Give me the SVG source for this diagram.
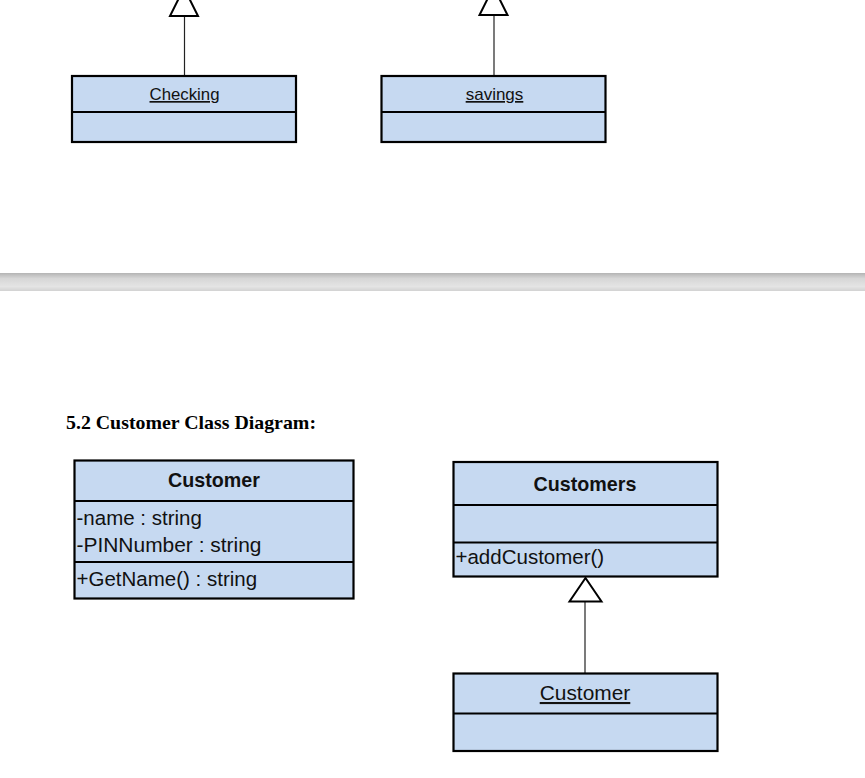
<svg xmlns="http://www.w3.org/2000/svg" width="865" height="778" viewBox="0 0 865 778">
<defs>
<linearGradient id="band" x1="0" y1="0" x2="0" y2="1">
<stop offset="0" stop-color="#b4b4b4"/>
<stop offset="0.3" stop-color="#d6d6d6"/>
<stop offset="0.75" stop-color="#e4e4e4"/>
<stop offset="1" stop-color="#d2d2d2"/>
</linearGradient>
</defs>
<style>
.box{fill:#c6d9f1;stroke:#000;stroke-width:2.2}
.div{stroke:#000;stroke-width:2.2}
.conn{stroke:#222;stroke-width:1.2;fill:none}
.tri{fill:#fff;stroke:#000;stroke-width:2}
.t{font-family:"Liberation Sans",Arial,sans-serif;fill:#111}
.b{font-weight:bold}
.u{text-decoration:underline}
.h{font-family:"Liberation Serif","Times New Roman",serif;font-weight:bold;font-size:19.5px;fill:#000}
</style>
<rect width="865" height="778" fill="#fff"/>
<rect x="0" y="273" width="865" height="18" fill="url(#band)"/>
<text class="h" x="66" y="429" textLength="250" lengthAdjust="spacingAndGlyphs">5.2 Customer Class Diagram:</text>

<g id="connectors">
<line class="conn" x1="184.5" y1="76" x2="184.5" y2="10"/>
<polygon class="tri" points="170,16 198,16 184,-12"/>
<line class="conn" x1="494" y1="76" x2="494" y2="10"/>
<polygon class="tri" points="479.5,15 507.5,15 493.5,-13"/>
<line class="conn" x1="585" y1="673" x2="585" y2="600"/>
<polygon class="tri" points="569.5,601.5 601.5,601.5 585.5,578"/>
</g>

<g id="checking">
<rect class="box" x="72" y="76" width="224" height="66"/>
<line class="div" x1="72" y1="112" x2="296" y2="112"/>
<text class="t u" x="184.5" y="100" font-size="16.8" text-anchor="middle">Checking</text>
</g>

<g id="savings">
<rect class="box" x="381.5" y="76" width="224" height="66"/>
<line class="div" x1="381.5" y1="112" x2="605.5" y2="112"/>
<text class="t u" x="494.5" y="100" font-size="17" text-anchor="middle">savings</text>
</g>

<g id="customer">
<rect class="box" x="74.5" y="460.5" width="279" height="138"/>
<line class="div" x1="74.5" y1="501" x2="353.5" y2="501"/>
<line class="div" x1="74.5" y1="562" x2="353.5" y2="562"/>
<text class="t b" x="214" y="486.5" font-size="19.7" text-anchor="middle">Customer</text>
<text class="t" x="76.5" y="524.5" font-size="20.5">-name : string</text>
<text class="t" x="76.5" y="551.5" font-size="20.5" textLength="185" lengthAdjust="spacingAndGlyphs">-PINNumber : string</text>
<text class="t" x="76.5" y="585.5" font-size="20.5">+GetName() : string</text>
</g>

<g id="customers">
<rect class="box" x="453.5" y="462" width="264" height="114.5"/>
<line class="div" x1="453.5" y1="505" x2="717.5" y2="505"/>
<line class="div" x1="453.5" y1="542.5" x2="717.5" y2="542.5"/>
<text class="t b" x="585" y="490.5" font-size="19.7" text-anchor="middle">Customers</text>
<text class="t" x="455.5" y="563.5" font-size="20.5">+addCustomer()</text>
</g>

<g id="customer2">
<rect class="box" x="453.5" y="673.5" width="264" height="77.5"/>
<line class="div" x1="453.5" y1="713.5" x2="717.5" y2="713.5"/>
<text class="t u" x="585" y="700" font-size="20.9" text-anchor="middle">Customer</text>
</g>
</svg>
